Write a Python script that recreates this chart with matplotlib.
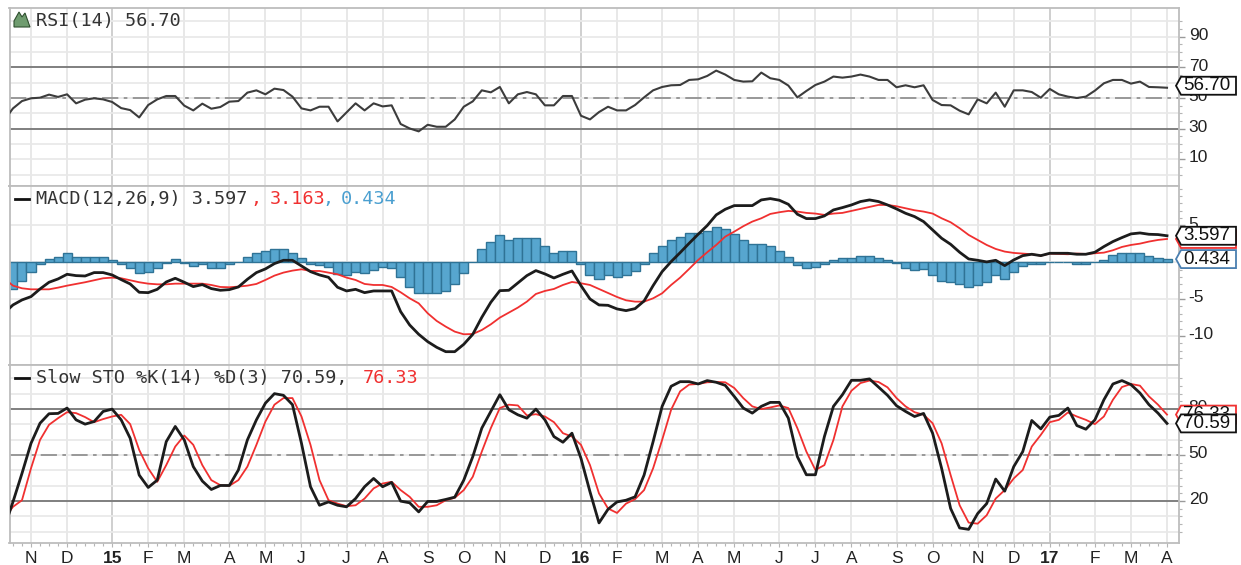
# -*- coding:utf-8 -*-
import numpy as np
import matplotlib
matplotlib.use('Agg')
import matplotlib.pyplot as plt
from matplotlib.patches import Polygon
from matplotlib.lines import Line2D
from matplotlib.transforms import ScaledTranslation

# weekly samples, week 0 is the first "N" gridline
weeks = np.arange(-3, 127)

month_weeks = [0, 4, 9, 13, 17, 22, 26, 30, 35, 39, 44, 48, 52, 57, 61, 65, 70, 74, 78, 83, 87, 91, 96, 100, 105, 109, 113, 118, 122, 126]
month_labels = ['N', 'D', '15', 'F', 'M', 'A', 'M', 'J', 'J', 'A', 'S', 'O', 'N', 'D', '16', 'F', 'M', 'A', 'M', 'J', 'J', 'A', 'S', 'O', 'N', 'D', '17', 'F', 'M', 'A']

rsi = [35.2, 43.2, 48.0, 49.8, 50.2, 52.2, 50.7, 52.4, 46.5, 48.9, 49.8, 49.1, 47.4, 43.4, 42.1, 37.3, 45.4, 49.1, 51.3, 51.3,
       45.0, 41.9, 46.3, 43.0, 44.1, 47.6, 48.0, 53.5, 55.0, 52.4, 56.1, 55.2, 50.9, 43.2, 41.9, 44.3, 44.3, 34.7, 40.6, 46.5,
       41.9, 46.5, 44.5, 45.2, 33.0, 30.1, 28.2, 32.5, 31.2, 31.2, 36.0, 44.3, 47.8, 55.0, 53.7, 57.2, 46.5, 52.4, 53.9, 52.4,
       45.2, 45.2, 51.3, 51.3, 38.4, 36.0, 40.8, 44.3, 41.9, 41.9, 45.4, 50.4, 55.0, 57.2, 58.3, 58.5, 61.8, 62.2, 64.4, 67.9,
       65.3, 61.8, 60.7, 60.9, 66.6, 62.9, 61.8, 58.1, 50.4, 54.6, 58.5, 60.7, 64.0, 63.3, 64.0, 65.3, 64.0, 61.8, 61.8, 57.0,
       58.3, 57.0, 58.3, 48.7, 45.4, 45.2, 41.7, 39.3, 49.1, 46.5, 53.5, 44.3, 55.0, 55.0, 53.9, 50.2, 55.9, 52.4, 50.9, 50.0,
       50.9, 54.8, 59.6, 61.8, 61.8, 59.4, 60.7, 57.2, 57.0, 56.7]

macd = [-6.92, -5.79, -5.11, -4.66, -3.62, -2.71, -2.26, -1.63, -1.81, -1.86, -1.40, -1.40, -1.72, -2.35, -2.94, -4.07, -4.12, -3.67, -2.67, -2.17,
        -2.71, -3.30, -3.03, -3.57, -3.80, -3.71, -3.35, -2.31, -1.40, -0.90, -0.18, 0.27, 0.27, -0.50, -1.27, -1.72, -2.04, -3.39, -3.89, -3.67,
        -4.12, -3.89, -3.89, -3.89, -6.70, -8.51, -9.77, -10.77, -11.54, -12.13, -12.13, -11.13, -9.77, -7.47, -5.43, -3.85, -3.80, -2.81, -1.81, -1.13,
        -1.58, -2.13, -1.63, -1.18, -3.17, -4.98, -5.79, -5.84, -6.33, -6.56, -6.29, -5.25, -3.17, -1.27, 0.09, 1.31, 2.58, 3.80, 4.98, 6.43,
        7.19, 7.69, 7.69, 7.69, 8.46, 8.64, 8.42, 7.87, 6.52, 5.93, 5.93, 6.29, 7.10, 7.42, 7.78, 8.24, 8.46, 8.24, 7.78, 7.24,
        6.65, 6.20, 5.52, 4.39, 3.26, 2.44, 1.36, 0.45, 0.27, 0.05, 0.27, -0.45, 0.32, 0.90, 1.09, 0.90, 1.22, 1.22, 1.22, 1.09,
        1.09, 1.36, 2.13, 2.81, 3.35, 3.85, 3.98, 3.80, 3.76, 3.597]

signal = [-2.17, -3.17, -3.53, -3.67, -3.67, -3.67, -3.44, -3.17, -2.94, -2.71, -2.44, -2.17, -2.08, -2.17, -2.44, -2.71, -2.90, -2.99, -2.99, -2.90,
          -2.90, -2.90, -2.90, -3.08, -3.35, -3.39, -3.30, -3.17, -2.94, -2.40, -1.81, -1.40, -1.13, -0.95, -1.18, -1.18, -1.40, -1.63, -2.08, -2.40,
          -2.94, -3.08, -3.08, -3.35, -4.07, -4.89, -5.57, -6.92, -7.96, -8.73, -9.41, -9.77, -9.73, -9.19, -8.42, -7.51, -6.83, -6.15, -5.34, -4.30,
          -3.89, -3.62, -3.08, -2.67, -2.85, -3.08, -3.62, -4.16, -4.71, -5.16, -5.34, -5.34, -4.89, -4.21, -3.08, -2.08, -0.90, 0.32, 1.36, 2.35,
          3.48, 4.16, 4.89, 5.52, 5.97, 6.56, 6.79, 6.97, 6.88, 6.70, 6.61, 6.43, 6.61, 6.70, 6.97, 7.24, 7.51, 7.78, 7.78, 7.60,
          7.33, 7.06, 6.88, 6.61, 5.97, 5.43, 4.62, 3.71, 3.03, 2.35, 1.81, 1.45, 1.27, 1.18, 1.09, 0.90, 1.18, 1.13, 1.09, 1.18,
          1.13, 1.22, 1.31, 1.63, 2.08, 2.35, 2.53, 2.81, 3.03, 3.163]

hist = [-3.67, -3.67, -2.53, -1.27, -0.27, 0.45, 0.68, 1.27, 0.77, 0.68, 0.72, 0.77, 0.32, -0.27, -0.72, -1.45, -1.27, -0.72, -0.05, 0.50,
        -0.05, -0.45, -0.23, -0.72, -0.72, -0.18, 0.03, 0.77, 1.27, 1.54, 1.81, 1.81, 1.31, 0.59, -0.18, -0.36, -0.68, -1.63, -1.72, -1.27,
        -1.40, -1.04, -0.68, -0.72, -1.95, -3.30, -4.12, -4.12, -4.16, -3.89, -2.90, -1.40, 0.03, 1.81, 2.76, 3.76, 2.99, 3.26, 3.26, 3.26,
        2.26, 1.27, 1.54, 1.54, -0.23, -1.72, -2.22, -1.72, -1.99, -1.72, -1.22, -0.23, 1.27, 2.26, 2.99, 3.48, 3.98, 3.98, 4.25, 4.75,
        4.52, 3.80, 2.99, 2.49, 2.49, 2.26, 1.54, 0.77, -0.41, -0.72, -0.68, -0.23, 0.36, 0.54, 0.54, 0.86, 0.86, 0.63, 0.36, -0.09,
        -0.72, -1.00, -0.90, -1.72, -2.49, -2.71, -2.94, -3.39, -3.03, -2.71, -1.72, -2.22, -1.27, -0.50, -0.18, -0.23, 0.03, 0.03, 0.05, -0.23,
        -0.23, 0.03, 0.36, 1.00, 1.27, 1.27, 1.27, 0.81, 0.63, 0.434]

sto_k = [2.0, 19.4, 38.0, 57.6, 70.7, 76.9, 77.1, 80.6, 72.9, 70.1, 71.8, 78.4, 79.9, 72.9, 60.9, 36.9, 28.8, 33.6, 58.7, 68.6,
         59.8, 42.4, 33.0, 27.5, 30.1, 30.1, 40.2, 59.8, 72.9, 83.8, 90.0, 88.9, 82.8, 57.6, 29.3, 17.2, 19.4, 17.2, 16.2, 21.6,
         29.3, 34.7, 29.3, 32.1, 19.9, 18.8, 12.9, 19.7, 19.7, 21.0, 22.5, 33.6, 48.9, 67.5, 78.4, 89.3, 79.5, 76.2, 74.0, 79.9,
         72.9, 62.0, 58.3, 64.2, 47.8, 26.0, 5.7, 14.6, 19.4, 20.5, 22.7, 36.9, 58.7, 81.7, 94.8, 97.8, 97.8, 96.3, 98.5, 97.4,
         95.4, 88.2, 80.6, 77.3, 81.7, 84.3, 84.3, 74.0, 48.9, 37.1, 37.1, 62.0, 81.7, 89.3, 98.7, 98.7, 99.6, 94.3, 88.9, 82.1,
         78.4, 75.1, 77.1, 64.2, 41.3, 15.1, 2.4, 1.5, 11.8, 18.3, 34.3, 26.4, 42.4, 52.2, 72.5, 67.0, 74.7, 75.8, 80.6, 69.2,
         66.8, 72.9, 86.0, 96.3, 98.5, 95.9, 90.4, 82.8, 77.3, 70.59]

sto_d = [8.5, 16.2, 20.5, 41.3, 59.8, 69.7, 74.0, 77.9, 77.3, 74.7, 71.4, 73.4, 75.1, 76.2, 70.1, 53.3, 41.3, 32.5, 43.4, 55.5,
         62.7, 56.6, 43.4, 33.6, 30.3, 29.9, 33.6, 42.4, 56.6, 71.8, 82.8, 87.1, 87.1, 75.1, 56.6, 33.6, 20.5, 18.3, 16.6, 17.2,
         21.6, 28.2, 31.4, 32.5, 27.1, 22.7, 16.2, 16.2, 17.2, 20.5, 22.1, 27.1, 35.8, 52.2, 67.5, 80.6, 82.8, 82.3, 75.8, 76.6,
         75.1, 71.4, 64.2, 62.0, 56.6, 43.4, 24.9, 15.1, 12.2, 18.3, 21.2, 27.1, 41.3, 59.8, 79.5, 91.5, 95.9, 96.3, 97.4, 97.6,
         97.4, 93.7, 87.1, 81.7, 79.9, 81.0, 82.3, 80.6, 67.5, 52.2, 40.2, 43.4, 59.8, 81.7, 91.9, 96.9, 98.5, 97.6, 94.1, 87.1,
         81.7, 77.9, 76.2, 70.7, 57.6, 36.9, 17.2, 5.9, 5.2, 10.7, 21.6, 27.1, 34.7, 40.2, 55.5, 63.1, 71.4, 72.9, 77.7, 75.1,
         72.9, 70.1, 75.1, 86.0, 94.3, 96.3, 95.2, 88.2, 82.8, 76.33]

W, H = 1241, 565
LEFT, RIGHT = 9.5, 1179
XLIM = (-2.385, 127.33)
RED = '#f03030'
BLUE = '#4a9fd0'


def fx(x):
    return x / W


def fy(y):
    return 1 - y / H


def make_axes(fig, top, bottom, ylim):
    ax = fig.add_axes([fx(LEFT), fy(bottom), fx(RIGHT - LEFT), (bottom - top) / H])
    ax.set_xlim(*XLIM)
    ax.set_ylim(*ylim)
    ax.set_axisbelow(True)
    for s in ax.spines.values():
        s.set_color('#bdbdbd')
        s.set_linewidth(1.3)
    for i, w in enumerate(month_weeks):
        year = month_labels[i].isdigit()
        ax.axvline(w, color='#cccccc' if year else '#e6e6e6', lw=1.3, zorder=0)
    ax.yaxis.tick_right()
    ax.set_xticks(month_weeks)
    ax.set_xticks(weeks[1:], minor=True)
    ax.set_xticklabels([])
    ax.tick_params(axis='x', which='both', length=0)
    ax.tick_params(axis='y', which='major', length=4, width=1, color='#9a9a9a', pad=3, labelsize=12.5, labelcolor='#222222')
    ax.tick_params(axis='y', which='minor', length=2.2, width=0.8, color='#b5b5b5')
    return ax


def set_levels(ax, grid, labels, minor):
    for g in grid:
        ax.axhline(g, color='#e9e9e9', lw=1.3, zorder=0)
    ax.set_yticks(labels)
    ax.set_yticklabels([str(v) for v in labels], family='Liberation Sans')
    ax.set_yticks(minor, minor=True)
    # labels sit a little above their level in the original
    shift = ScaledTranslation(0, 2 / 72, ax.figure.dpi_scale_trans)
    for t in ax.get_yticklabels():
        t.set_transform(t.get_transform() + shift)


def ref_lines(ax, high, mid, low):
    ax.axhline(high, color='#777777', lw=1.3, zorder=1)
    ax.axhline(low, color='#777777', lw=1.3, zorder=1)
    ax.axhline(mid, color='#929292', lw=1.3, zorder=1, dashes=(9, 3, 2, 3))


def tag(fig, ax, value, text, color, zorder=10, dy=0):
    y = H - ax.transData.transform((0, value))[1] + dy
    pts = [(1176, y), (1181, y - 9), (1236, y - 9), (1236, y + 9), (1181, y + 9)]
    poly = Polygon([(fx(a), fy(b)) for a, b in pts], closed=True, transform=fig.transFigure,
                   facecolor='white', edgecolor=color, lw=1.3, zorder=zorder, clip_on=False)
    fig.add_artist(poly)
    return fig.text(fx(1183), fy(y), text, family='Liberation Sans', fontsize=13.5, color='#111111',
                    va='center', ha='left', zorder=zorder)


def title(fig, x, y, text, color='#333333'):
    fig.text(fx(x), fy(y), text, family='DejaVu Sans Mono', fontsize=13.3, color=color, va='center', ha='left')


def legend_dash(fig, y):
    fig.add_artist(Line2D([fx(15), fx(29)], [fy(y), fy(y)], color='#111111', lw=2, transform=fig.transFigure))


fig = plt.figure(figsize=(W / 100, H / 100), dpi=100, facecolor='white')

# RSI panel
ax1 = make_axes(fig, 8, 186, (-7.5, 108.8))
set_levels(ax1, range(0, 101, 10), [10, 30, 50, 70, 90], np.arange(0, 105, 5))
ref_lines(ax1, 70, 50, 30)
ax1.plot(weeks, rsi, color='#3c3c3c', lw=1.5, zorder=3)

# MACD panel
ax2 = make_axes(fig, 186, 364.5, (-13.87, 10.35))
set_levels(ax2, [-10, -5, 0, 5], [-10, -5, 5], np.arange(-13, 11, 1))
ax2.bar(weeks, hist, width=1.0, color='#57a6cf', edgecolor='#2f7396', lw=1, zorder=2)
ax2.plot(weeks, signal, color=RED, lw=1.3, zorder=3)
ax2.plot(weeks, macd, color='#1c1c1c', lw=2.0, zorder=4)

# Slow stochastic panel
ax3 = make_axes(fig, 364.5, 543, (-7.4, 109.0))
set_levels(ax3, range(0, 101, 10), [20, 50, 80], np.arange(0, 105, 5))
ref_lines(ax3, 80, 50, 20)
ax3.plot(weeks, sto_d, color=RED, lw=1.3, zorder=3)
ax3.plot(weeks, sto_k, color='#1c1c1c', lw=2.0, zorder=4)

ax3.tick_params(axis='x', which='minor', length=2.5, width=0.8, color='#b5b5b5')
ax3.tick_params(axis='x', which='major', length=3, width=0.8, color='#b5b5b5', pad=3, labelsize=12.5)
ax3.set_xticklabels(month_labels, family='Liberation Sans', color='#222222')
for t in ax3.get_xticklabels():
    if t.get_text().isdigit():
        t.set_fontweight('bold')

# header text
title(fig, 36, 21, 'RSI(14) 56.70')
title(fig, 36, 199, 'MACD(12,26,9) 3.597')
title(fig, 250, 199, ',', RED)
title(fig, 270, 199, '3.163', RED)
title(fig, 322, 199, ',', BLUE)
title(fig, 341, 199, '0.434', BLUE)
title(fig, 36, 378, 'Slow STO %K(14) %D(3) 70.59,')
title(fig, 363, 378, '76.33', RED)
legend_dash(fig, 199)
legend_dash(fig, 378)

# small mountain icon next to the RSI header
icon = [(14, 27), (14, 21), (19, 12), (22, 17), (25, 13), (30, 27)]
fig.add_artist(Polygon([(fx(a), fy(b)) for a, b in icon], closed=True, transform=fig.transFigure,
                       facecolor='#6f9c6f', edgecolor='#2f4f2f', lw=0.8))

# value tags on the right
tag(fig, ax1, 56.70, '56.70', '#111111', dy=-2)
tag(fig, ax2, 3.163, '3.163', RED, zorder=9)
tag(fig, ax2, 3.597, '3.597', '#111111', zorder=10)
tag(fig, ax2, 0.434, '0.434', '#4a7fb0', zorder=10)
tag(fig, ax3, 76.33, '76.33', RED, zorder=9)
tag(fig, ax3, 70.59, '70.59', '#111111', zorder=10)

fig.savefig('out.png', dpi=100)
